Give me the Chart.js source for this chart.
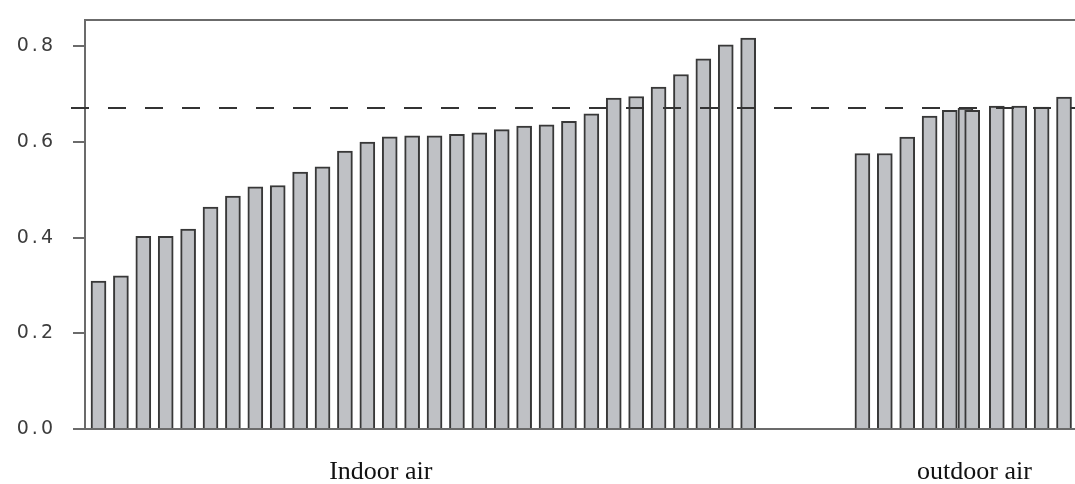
<!DOCTYPE html>
<html>
<head>
<meta charset="utf-8">
<script src="https://cdn.jsdelivr.net/npm/chart.js@4.4.1/dist/chart.umd.min.js"></script>
<style>
  html, body { margin: 0; padding: 0; background: #fff; }
  #wrap { width: 1075px; height: 484px; }
</style>
</head>
<body>
<div id="wrap"><canvas id="c"></canvas></div>
<script>
// values
const indoorVals = [0.309, 0.320, 0.403, 0.403, 0.418, 0.464, 0.487, 0.506, 0.509, 0.537,
  0.548, 0.581, 0.600, 0.611, 0.613, 0.613, 0.616, 0.619, 0.626, 0.633,
  0.636, 0.643, 0.659, 0.692, 0.695, 0.715, 0.741, 0.774, 0.803, 0.817];
const outdoorVals = [0.576, 0.576, 0.610, 0.654, 0.666, 0.671, 0.666, 0.675, 0.675, 0.673, 0.694];
// bar slots along the x axis (indoor bars sit at 1..30)
const outdoorPos = [35.1, 36.1, 37.1, 38.1, 39.0, 39.7, 40.0, 41.1, 42.1, 43.1, 44.1];
const refLine = 0.671;
const yTicks = [0, 0.2, 0.4, 0.6, 0.8];
const groupLabels = ['Indoor air', 'outdoor air'];
const groupLabelPos = [13.6, 40.1];

const BAR_FILL = '#bfc1c5';
const BAR_EDGE = '#383838';
const AXIS = '#6b6b6b';

const indoorData = indoorVals.map((v, i) => ({ x: i + 1, y: v }));
const outdoorData = outdoorVals.map((v, i) => ({ x: outdoorPos[i], y: v }));

const barStyle = {
  backgroundColor: BAR_FILL,
  borderColor: BAR_EDGE,
  borderWidth: 2,
  barThickness: 15,
  grouped: false,
};

// y tick labels in the original are widely spaced
const spacing = {
  id: 'spacing',
  beforeDraw(chart) { chart.ctx.letterSpacing = '3px'; },
  afterDraw(chart) { chart.ctx.letterSpacing = '0px'; },
};

const extras = {
  id: 'extras',
  afterDatasetsDraw(chart) {
    const { ctx, chartArea, scales } = chart;
    ctx.save();
    // top frame line
    ctx.strokeStyle = AXIS;
    ctx.lineWidth = 2;
    ctx.beginPath();
    ctx.moveTo(chartArea.left, chartArea.top);
    ctx.lineTo(chartArea.right, chartArea.top);
    ctx.stroke();
    // dashed reference line
    const y = scales.y.getPixelForValue(refLine);
    ctx.strokeStyle = '#333';
    ctx.setLineDash([18, 19]);
    ctx.beginPath();
    ctx.moveTo(chartArea.left - 14, y);
    ctx.lineTo(chartArea.right, y);
    ctx.stroke();
    ctx.restore();
  },
  afterDraw(chart) {
    const { ctx, scales } = chart;
    ctx.save();
    ctx.letterSpacing = '0px';
    ctx.fillStyle = '#111';
    ctx.font = '26px "Liberation Serif", "Times New Roman", serif';
    ctx.textAlign = 'center';
    ctx.textBaseline = 'alphabetic';
    groupLabels.forEach((t, i) => {
      ctx.fillText(t, scales.x.getPixelForValue(groupLabelPos[i]), 479);
    });
    ctx.restore();
  },
};

new Chart(document.getElementById('c'), {
  type: 'bar',
  data: {
    datasets: [
      { label: 'Indoor air', data: indoorData, ...barStyle },
      { label: 'outdoor air', data: outdoorData, ...barStyle },
    ],
  },
  options: {
    responsive: true,
    maintainAspectRatio: false,
    animation: false,
    layout: { padding: { top: 20, right: 0, left: 0, bottom: 0 } },
    plugins: { legend: { display: false }, tooltip: { enabled: false } },
    scales: {
      x: {
        type: 'linear',
        offset: false,
        min: 0.397,
        max: 44.59,
        grid: { display: false },
        border: { display: true, color: AXIS, width: 2 },
        ticks: { display: false },
        afterFit(s) { s.height = 55; },
      },
      y: {
        min: 0,
        max: 0.855,
        grid: { drawOnChartArea: false, drawTicks: true, tickLength: 12, color: AXIS, lineWidth: 2 },
        border: { display: true, color: AXIS, width: 2 },
        afterBuildTicks(s) { s.ticks = yTicks.map(v => ({ value: v })); },
        ticks: {
          padding: 17,
          color: '#3c3c3c',
          font: { family: '"DejaVu Sans", sans-serif', size: 19 },
          callback: v => v.toFixed(1),
        },
        afterFit(s) {
          s.width = 85;
          s.paddingTop = 0;
          s.paddingBottom = 0;
        },
      },
    },
  },
  plugins: [spacing, extras],
});
</script>
</body>
</html>
